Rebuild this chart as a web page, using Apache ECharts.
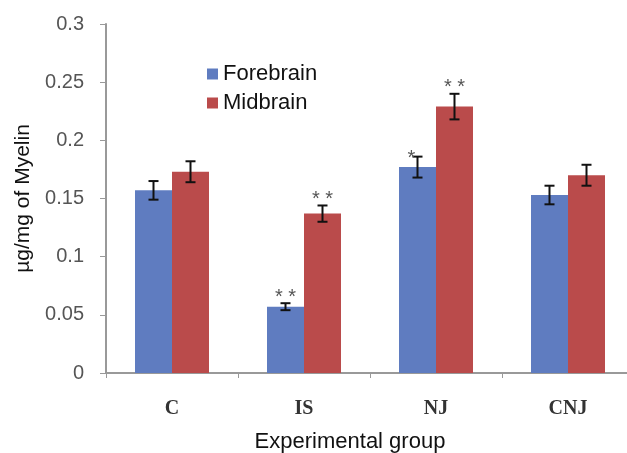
<!DOCTYPE html>
<html>
<head>
<meta charset="utf-8">
<script src="https://cdn.jsdelivr.net/npm/echarts@6/dist/echarts.min.js"></script>
<style>
  html, body { margin: 0; padding: 0; background: #fff; }
  #chart { width: 627px; height: 453px; }
</style>
</head>
<body>
<div id="chart"></div>
<script>
  // data
  var groups = ['C', 'IS', 'NJ', 'CNJ']
  var forebrain = [0.157, 0.057, 0.177, 0.153]
  var midbrain = [0.173, 0.137, 0.229, 0.170]
  var forebrainErr = [0.008, 0.003, 0.009, 0.008]
  var midbrainErr = [0.009, 0.007, 0.011, 0.009]
  var forebrainSig = ['', '**', '*', '']
  var midbrainSig = ['', '**', '**', '']

  var BAR_W = 37
  var blue = '#5f7cc0'
  var red = '#ba4b4b'
  var SANS = '"Liberation Sans", Arial, sans-serif'

  // error bar with the significance stars sitting on top
  function errorBars (values, errs, marks, offset, starDx) {
    return {
      type: 'custom',
      z: 10,
      data: values.map(function (v, i) { return [i, v, errs[i]] }),
      renderItem: function (params, api) {
        var i = api.value(0)
        var v = api.value(1)
        var e = api.value(2)
        var hi = api.coord([i, v + e])
        var lo = api.coord([i, v - e])
        var x = hi[0] + offset
        var cap = 5
        var style = { stroke: '#111', lineWidth: 2 }
        var children = [
          { type: 'line', shape: { x1: x, y1: hi[1], x2: x, y2: lo[1] }, style: style },
          { type: 'line', shape: { x1: x - cap, y1: hi[1], x2: x + cap, y2: hi[1] }, style: style },
          { type: 'line', shape: { x1: x - cap, y1: lo[1], x2: x + cap, y2: lo[1] }, style: style }
        ]
        var m = marks[i]
        if (m) {
          children.push({
            type: 'text',
            style: {
              text: m.split('').join(' '),
              x: x + (m.length === 1 ? starDx : 0),
              y: hi[1] + (m.length === 1 ? 12 : 4),
              align: 'center',
              verticalAlign: 'bottom',
              fill: '#555',
              font: '20px ' + SANS
            }
          })
        }
        return { type: 'group', children: children }
      }
    }
  }

  var myChart = echarts.init(document.getElementById('chart'))
  myChart.setOption({
    animation: false,
    backgroundColor: '#fff',
    grid: { left: 106, right: -7, top: 24, bottom: 80, outerBoundsMode: 'none' },
    legend: {
      orient: 'vertical',
      left: 202,
      top: 58,
      itemWidth: 11,
      itemHeight: 11,
      itemGap: 7,
      icon: 'rect',
      data: ['Forebrain', 'Midbrain'],
      textStyle: { fontSize: 22, color: '#111', fontFamily: SANS }
    },
    xAxis: {
      type: 'category',
      data: groups,
      name: 'Experimental group',
      nameLocation: 'middle',
      nameGap: 58,
      nameTextStyle: { fontSize: 22, color: '#111', fontFamily: SANS, padding: [0, 40, 0, 0] },
      axisLine: { lineStyle: { color: '#999', width: 2 } },
      axisTick: { show: true, length: 5, lineStyle: { color: '#999' } },
      axisLabel: {
        margin: 26,
        fontSize: 20,
        fontWeight: 'bold',
        color: '#333',
        fontFamily: '"Liberation Serif", "DejaVu Serif", serif'
      }
    },
    yAxis: {
      type: 'value',
      min: 0,
      max: 0.3,
      interval: 0.05,
      name: 'µg/mg of Myelin',
      nameLocation: 'middle',
      nameGap: 67,
      nameTextStyle: { fontSize: 21, color: '#111', fontFamily: SANS },
      axisLine: { show: true, lineStyle: { color: '#999', width: 2 } },
      axisTick: { show: true, length: 6, inside: false, lineStyle: { color: '#999' } },
      splitLine: { show: false },
      axisLabel: {
        margin: 22,
        fontSize: 20,
        color: '#555',
        fontFamily: SANS
      }
    },
    series: [
      {
        name: 'Forebrain',
        type: 'bar',
        data: forebrain,
        barWidth: BAR_W,
        barGap: '0%',
        itemStyle: { color: blue }
      },
      {
        name: 'Midbrain',
        type: 'bar',
        data: midbrain,
        barWidth: BAR_W,
        barGap: '0%',
        itemStyle: { color: red }
      },
      errorBars(forebrain, forebrainErr, forebrainSig, -BAR_W / 2, -6),
      errorBars(midbrain, midbrainErr, midbrainSig, BAR_W / 2, 0)
    ]
  })
</script>
</body>
</html>
